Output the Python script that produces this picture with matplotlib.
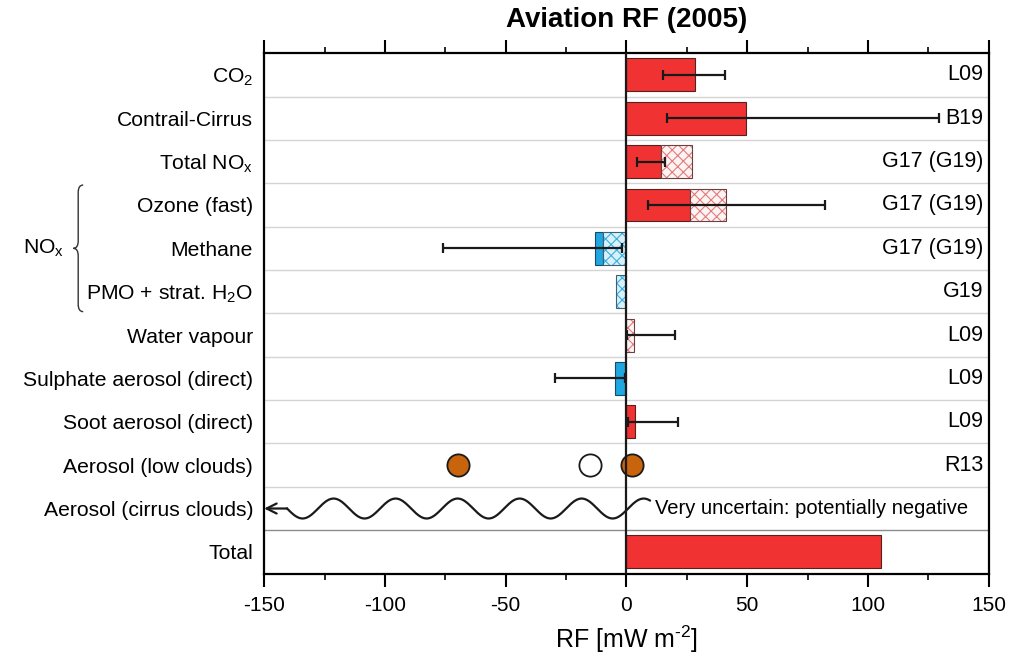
import numpy as np
import matplotlib
matplotlib.use("Agg")
import matplotlib.pyplot as plt
from matplotlib.path import Path
from matplotlib.patches import PathPatch
import matplotlib.transforms as mtransforms

plt.rcParams['font.family'] = ['Liberation Sans', 'DejaVu Sans']
plt.rcParams['mathtext.fontset'] = 'custom'
plt.rcParams['mathtext.rm'] = 'Liberation Sans'
plt.rcParams['mathtext.it'] = 'Liberation Sans:italic'
plt.rcParams['axes.unicode_minus'] = False
plt.rcParams['hatch.linewidth'] = 0.8

# rows, top to bottom
labels = ['CO$_\\mathregular{2}$', 'Contrail-Cirrus', 'Total NO$_\\mathregular{x}$',
          'Ozone (fast)', 'Methane', 'PMO + strat. H$_\\mathregular{2}$O',
          'Water vapour', 'Sulphate aerosol (direct)', 'Soot aerosol (direct)',
          'Aerosol (low clouds)', 'Aerosol (cirrus clouds)', 'Total']
refs = ['L09', 'B19', 'G17 (G19)', 'G17 (G19)', 'G17 (G19)', 'G19',
        'L09', 'L09', 'L09', 'R13', '', '']

nan = np.nan
# solid bars (start, end) in mW m-2
solid_lo = [0, 0, 0, 0, -13.0, nan, nan, -4.8, 0, nan, nan, 0]
solid_hi = [28.3, 49.3, 14.3, 26.3, -9.9, nan, nan, 0, 3.5, nan, nan, 105.3]
# hatched bars (start, end)
hatch_lo = [nan, nan, 14.3, 26.3, -9.9, -4.5, 0, nan, nan, nan, nan, nan]
hatch_hi = [nan, nan, 27.0, 41.4, 0, 0, 3.1, nan, nan, nan, nan, nan]
# uncertainty ranges
err_lo = [15.0, 16.6, 4.2, 9.0, -76.0, nan, 0.3, -29.6, 0.6, nan, nan, nan]
err_hi = [41.0, 129.4, 16.0, 82.4, -2.0, nan, 20.3, -0.6, 21.2, nan, nan, nan]

# aerosol-low-cloud estimates
low_cloud_vals = [-69.6, -15.1, 2.4]
low_cloud_fill = ['#C8640C', 'white', '#C8640C']

# aerosol-cirrus wavy line
wave_start, wave_end, wave_cycles = -140.5, 9.7, 5.85

red = '#F03232'
blue = '#1EA7E1'
red_hatch = '#E27C7C'
blue_hatch = '#39AFE0'

fig = plt.figure(figsize=(10.12, 6.57), dpi=100)
ax = fig.add_axes([0.261, 0.127, 0.716, 0.792])

n = len(labels)
y = np.arange(n)
h = 0.76
rt = mtransforms.blended_transform_factory(ax.transAxes, ax.transData)

for i in range(n):
    # solid part
    if not np.isnan(solid_lo[i]):
        c = red if solid_hi[i] > 0 else blue
        ax.barh(y[i], solid_hi[i] - solid_lo[i], left=solid_lo[i], height=h,
                color=c, edgecolor='#5a2020' if c == red else '#1a4a6a', linewidth=0.8, zorder=3)
    # hatched part
    if not np.isnan(hatch_lo[i]):
        hc = red_hatch if hatch_hi[i] > 0 else blue_hatch
        fc = '#FDF3F3' if hatch_hi[i] > 0 else '#D8F0FA'
        ax.barh(y[i], hatch_hi[i] - hatch_lo[i], left=hatch_lo[i], height=h,
                color=fc, edgecolor=hc, hatch='xxx', linewidth=0, zorder=3)
        ax.barh(y[i], hatch_hi[i] - hatch_lo[i], left=hatch_lo[i], height=h,
                color='none', edgecolor='#6a4040' if hatch_hi[i] > 0 else '#406070',
                linewidth=0.8, zorder=3)
    # uncertainty
    if not np.isnan(err_lo[i]):
        mid = (err_lo[i] + err_hi[i]) / 2
        ax.errorbar(mid, y[i], xerr=[[mid - err_lo[i]], [err_hi[i] - mid]], fmt='none',
                    ecolor='#1a1a1a', elinewidth=1.6, capsize=3.5, capthick=1.6, zorder=4)
    # reference label
    if refs[i]:
        ax.text(0.993, y[i], refs[i], transform=rt, ha='right', va='center', fontsize=15.5)

# low clouds circles
row_low = labels.index('Aerosol (low clouds)')
for v, fc in zip(low_cloud_vals, low_cloud_fill):
    ax.plot(v, row_low, 'o', ms=16, mfc=fc, mec='#1a1a1a', mew=1.3, zorder=5)

# cirrus wave with arrow
row_ci = labels.index('Aerosol (cirrus clouds)')
xs = np.linspace(wave_start, wave_end, 600)
ys = row_ci + 0.23 * np.sin(2 * np.pi * wave_cycles * (xs - wave_start) / (wave_end - wave_start))
ax.plot(xs, ys, color='#1a1a1a', lw=1.6, zorder=5)
ax.annotate('', xy=(-150, row_ci), xytext=(wave_start, row_ci),
            arrowprops=dict(arrowstyle='->', lw=1.6, color='#1a1a1a',
                            shrinkA=0, shrinkB=0, mutation_scale=18), zorder=5)
ax.text(wave_end + 2.0, row_ci, 'Very uncertain: potentially negative',
        ha='left', va='center', fontsize=14.5)

# row separators
for i in range(n - 1):
    col = '#8c8c8c' if i == n - 2 else '#d4d4d4'
    ax.axhline(i + 0.5, color=col, lw=1.0, zorder=1)

ax.axvline(0, color='#1a1a1a', lw=1.6, zorder=6)

ax.set_xlim(-150, 150)
ax.set_ylim(n - 0.5, -0.5)
ax.set_yticks(y)
ax.set_yticklabels(labels, fontsize=15.2)
ax.tick_params(axis='y', length=0, pad=8)
ax.set_xticks(np.arange(-150, 151, 50))
ax.set_xticks(np.arange(-125, 150, 50), minor=True)
ax.tick_params(axis='x', which='major', direction='out', length=9.5, width=1.5,
               top=True, labelsize=15, pad=7)
ax.tick_params(axis='x', which='minor', direction='out', length=4.5, width=1.2, top=True)
for s in ax.spines.values():
    s.set_linewidth(1.6)

ax.set_xlabel('RF [mW m$^{\\text{-2}}$]', fontsize=18, labelpad=6)
ax.set_title('Aviation RF (2005)', fontsize=20, fontweight='bold', pad=19)

# NOx brace
r0 = labels.index('Ozone (fast)') - 0.46
r1 = labels.index('PMO + strat. H$_\\mathregular{2}$O') + 0.46
rm = (r0 + r1) / 2
xa, xb, xc = -0.2497, -0.2566, -0.2634
dy = 0.17
verts = [(xa, r0), (xb, r0), (xb, r0 + dy),
         (xb, rm - dy),
         (xb, rm), (xc, rm),
         (xb, rm), (xb, rm + dy),
         (xb, r1 - dy),
         (xb, r1), (xa, r1)]
codes = [Path.MOVETO, Path.CURVE3, Path.CURVE3,
         Path.LINETO,
         Path.CURVE3, Path.CURVE3,
         Path.CURVE3, Path.CURVE3,
         Path.LINETO,
         Path.CURVE3, Path.CURVE3]
ax.add_patch(PathPatch(Path(verts, codes), transform=rt, fill=False,
                       lw=1.0, color='#333333', clip_on=False))
ax.text(-0.276, rm, 'NO$_\\mathregular{x}$', transform=rt, ha='right', va='center', fontsize=15.2)

fig.savefig('out.png', dpi=100)
